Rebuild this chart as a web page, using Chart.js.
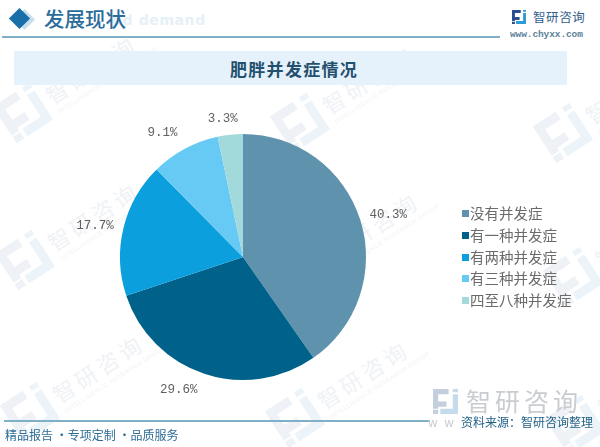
<!DOCTYPE html>
<html>
<head>
<meta charset="utf-8">
<script src="https://cdn.jsdelivr.net/npm/chart.js@4"></script>
<style>
html, body { margin: 0; padding: 0; background: #fff; }
#page { position: relative; width: 600px; height: 447px; overflow: hidden; font-family: "Noto Sans CJK SC", sans-serif; }
#page div, #page svg { position: absolute; white-space: nowrap; }
#pieChart { position: absolute; left: 0; top: 0; }
.wm { color: #eff2f6; font-size: 22px; line-height: 26px; letter-spacing: 4px; transform: rotate(-33deg); transform-origin: left top; }
.wmSub { color: #f1f3f6; font-size: 6px; line-height: 8px; letter-spacing: .6px; font-family: "Liberation Sans"; transform: rotate(-33deg); transform-origin: left top; }
.lg { font-size: 14.5px; line-height: 20px; color: #6b6b6b; left: 470px; }
.sw { width: 7px; height: 7px; left: 462px; }
</style>
</head>
<body>
<div id="page">
  <div id="marks"></div>

  <div style="left:17px;top:12px;width:15px;height:15px;background:#c9deed;transform:rotate(45deg);"></div>
  <div style="left:12px;top:11px;width:15px;height:15px;background:#1a6fa8;transform:rotate(45deg);"></div>
  <div style="left:112px;top:12px;font-size:14px;font-weight:700;color:#e6f0f8;letter-spacing:.6px;font-family:'DejaVu Sans';">nd demand</div>
  <div style="left:44px;top:3px;font-size:20.5px;line-height:30px;color:#2a6c9b;font-weight:500;">发展现状</div>
  <div style="left:2px;top:36px;width:498px;height:2px;background:#7fb0c8;"></div>

  <div style="left:14px;top:51px;width:553px;height:34px;background:#e6f2fb;"></div>
  <div style="left:230px;top:57px;font-size:17px;letter-spacing:1.3px;line-height:24px;font-weight:700;color:#24506f;">肥胖并发症情况</div>

  <svg style="left:512px;top:10px;" width="14" height="14" viewBox="0 0 24 24">
    <path fill="#2a4d8f" d="M0 0H15V5H5V12H13V17H5V19H0Z M0 20H5V24H0Z"/>
    <path fill="#2e9bd6" d="M19 0H24V3H19Z M19 5H24V24H7V19H19Z"/>
  </svg>
  <div style="left:533px;top:8px;font-size:12.5px;line-height:18px;color:#35608c;letter-spacing:.6px;">智研咨询</div>
  <div style="left:510px;top:29px;font-size:9.5px;line-height:12px;color:#5d7f99;font-family:'Liberation Mono';font-weight:700;letter-spacing:-.1px;">www.chyxx.com</div>

  <canvas id="pieChart" width="600" height="447"></canvas>
  <div id="legend"></div>

  <div style="left:4px;top:420px;width:426px;height:1.5px;background:#7fb0c8;"></div>
  <svg style="left:433px;top:389px;" width="25" height="25" viewBox="0 0 24 24">
    <path fill="#c3cfdc" d="M0 0H15V5H5V12H13V17H5V19H0Z M0 20H5V24H0Z"/>
    <path fill="#c5daea" d="M19 0H24V3H19Z M19 5H24V24H7V19H19Z"/>
  </svg>
  <div style="left:466px;top:384px;font-size:25px;line-height:32px;color:#c9ccd0;letter-spacing:4px;">智研咨询</div>
  <div style="left:428px;top:414px;font-size:12px;line-height:16px;color:#c9ccd0;letter-spacing:2px;">w w</div>
  <div style="left:461px;top:413px;font-size:12px;line-height:18px;color:#1f5f86;">资料来源：智研咨询整理</div>
  <div style="left:5px;top:426px;font-size:12px;line-height:18px;color:#2e6c96;">精品报告 ·专项定制 ·品质服务</div>
</div>

<script>
// values
const categories = ['没有并发症', '有一种并发症', '有两种并发症', '有三种并发症', '四至八种并发症'];
const shares = [40.3, 29.6, 17.7, 9.1, 3.3];
const sliceColors = ['#5f93ad', '#00628b', '#0ba0dd', '#66caf5', '#a2d9da'];

// watermark logo spots, decoration only
const markSpots = [[23, 113], [25, 260], [30, 412], [300, 123], [305, 270], [295, 418], [563, 133], [573, 277], [575, 425]];

const marks = document.getElementById('marks');
markSpots.forEach(p => {
    const logo = document.createElementNS('http://www.w3.org/2000/svg', 'svg');
    logo.setAttribute('width', '44');
    logo.setAttribute('height', '44');
    logo.setAttribute('viewBox', '0 0 24 24');
    logo.style.left = (p[0] - 22) + 'px';
    logo.style.top = (p[1] - 22) + 'px';
    logo.style.transform = 'rotate(-33deg)';
    logo.innerHTML = '<path fill="#eef1f6" d="M0 0H15V5H5V12H13V17H5V19H0Z M0 20H5V24H0Z"/>' +
        '<path fill="#ecf4f9" d="M19 0H24V3H19Z M19 5H24V24H7V19H19Z"/>';
    marks.appendChild(logo);
    const txt = document.createElement('div');
    txt.className = 'wm';
    txt.textContent = '智研咨询';
    txt.style.left = (p[0] + 17) + 'px';
    txt.style.top = (p[1] - 27) + 'px';
    marks.appendChild(txt);
    const sub = document.createElement('div');
    sub.className = 'wmSub';
    sub.textContent = 'INTELLIGENCE RESEARCH GROUP';
    sub.style.left = (p[0] + 33) + 'px';
    sub.style.top = (p[1] - 4) + 'px';
    marks.appendChild(sub);
});

// legend on the right
const legendBox = document.getElementById('legend');
categories.forEach((name, i) => {
    const y = 203 + i * 21.8;
    const sw = document.createElement('div');
    sw.className = 'sw';
    sw.style.top = (y + 7) + 'px';
    sw.style.background = sliceColors[i];
    legendBox.appendChild(sw);
    const t = document.createElement('div');
    t.className = 'lg';
    t.style.top = y + 'px';
    t.textContent = name;
    legendBox.appendChild(t);
});

// percent labels outside each slice, nudged by hand like the original
const labelNudge = [[5, 2], [-18, -7], [-5, 3], [-11, 5], [-5, 8]];
const outsideLabels = {
    id: 'outsideLabels',
    afterDatasetsDraw(chart) {
        const ctx = chart.ctx;
        ctx.save();
        ctx.font = '12.5px "Liberation Mono"';
        ctx.fillStyle = '#606060';
        ctx.textAlign = 'center';
        ctx.textBaseline = 'middle';
        chart.getDatasetMeta(0).data.forEach((arc, i) => {
            const a = (arc.startAngle + arc.endAngle) / 2;
            const r = arc.outerRadius + 24;
            ctx.fillText(shares[i].toFixed(1) + '%',
                arc.x + Math.cos(a) * r + labelNudge[i][0],
                arc.y + Math.sin(a) * r + labelNudge[i][1]);
        });
        ctx.restore();
    }
};

new Chart(document.getElementById('pieChart').getContext('2d'), {
    type: 'pie',
    data: {
        labels: categories,
        datasets: [{
            data: shares,
            backgroundColor: sliceColors,
            borderWidth: 0
        }]
    },
    options: {
        responsive: false,
        animation: false,
        layout: { padding: { left: 120, right: 234, top: 134, bottom: 67 } },
        plugins: {
            legend: { display: false },
            tooltip: { enabled: false }
        }
    },
    plugins: [outsideLabels]
});
</script>
</body>
</html>
